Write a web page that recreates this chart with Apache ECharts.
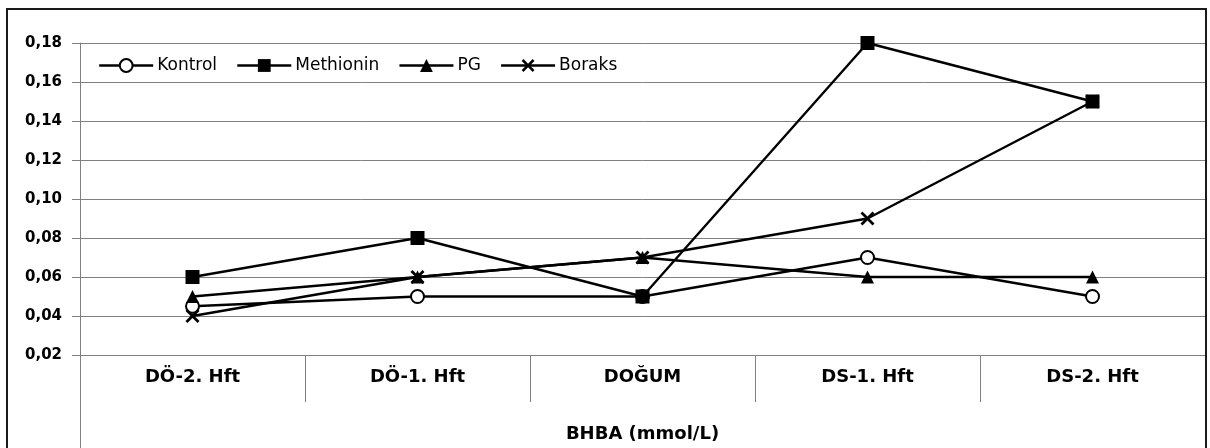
<!DOCTYPE html>
<html>
<head>
<meta charset="utf-8">
<script src="https://cdn.jsdelivr.net/npm/echarts@6/dist/echarts.min.js"></script>
<style>
  html, body { margin: 0; padding: 0; background: #fff; }
  #chart { width: 1210px; height: 448px; }
</style>
</head>
<body>
<div id="chart"></div>
<script>
// Sampling weeks around calving
const categories = ['DÖ-2. Hft', 'DÖ-1. Hft', 'DOĞUM', 'DS-1. Hft', 'DS-2. Hft'];
const axisTitle = 'BHBA (mmol/L)';

// BHBA concentration per group (mmol/L)
const kontrol   = [0.045, 0.05, 0.05, 0.07, 0.05];
const methionin = [0.06, 0.08, 0.05, 0.18, 0.15];
const pg        = [0.05, 0.06, 0.07, 0.06, 0.06];
const boraks    = [0.04, 0.06, 0.07, 0.09, 0.15];

const yMin = 0.02, yMax = 0.18, yStep = 0.02;

const FONT = 'DejaVu Sans';
const GRID = '#808080';
const crossPath = 'path://M0,1.4L1.4,0L5,3.6L8.6,0L10,1.4L6.4,5L10,8.6L8.6,10L5,6.4L1.4,10L0,8.6L3.6,5Z';

function lineSeries(name, data, symbol, size, filled) {
  return {
    name: name,
    type: 'line',
    data: data,
    symbol: symbol,
    symbolSize: size,
    showAllSymbol: true,
    lineStyle: { color: '#000', width: 2.4 },
    itemStyle: filled
      ? { color: '#000' }
      : { color: '#fff', borderColor: '#000', borderWidth: 2 },
    emphasis: { disabled: true },
    animation: false
  };
}

const chart = echarts.init(document.getElementById('chart'), null, { renderer: 'canvas' });
chart.setOption({
  backgroundColor: '#fff',
  animation: false,
  grid: { left: 80, right: 5, top: 43, bottom: 93, containLabel: false },
  legend: {
    left: 93,
    top: 52,
    itemWidth: 54,
    itemHeight: 16,
    itemGap: 19,
    lineStyle: { width: 2.4 },
    textStyle: { fontFamily: FONT, fontSize: 17, color: '#000', padding: [0, 0, 0, -1] },
    data: ['Kontrol', 'Methionin', 'PG', 'Boraks']
  },
  xAxis: {
    type: 'category',
    data: categories,
    boundaryGap: true,
    axisLine: { show: true, lineStyle: { color: GRID, width: 1 } },
    axisTick: { show: true, interval: 0, length: 47, lineStyle: { color: GRID, width: 1 } },
    axisLabel: { interval: 0, margin: 13, fontFamily: FONT, fontSize: 18, fontWeight: 'bold', color: '#000' },
    name: axisTitle,
    nameLocation: 'middle',
    nameGap: 70,
    nameTextStyle: { fontFamily: FONT, fontSize: 18, fontWeight: 'bold', color: '#000' }
  },
  yAxis: {
    type: 'value',
    min: yMin,
    max: yMax,
    interval: yStep,
    axisLine: { show: true, lineStyle: { color: GRID, width: 1 } },
    axisTick: { show: true, length: 8, lineStyle: { color: GRID, width: 1 } },
    splitLine: { show: true, lineStyle: { color: GRID, width: 1 } },
    axisLabel: {
      margin: 18,
      fontFamily: FONT, fontSize: 15, fontWeight: 'bold', color: '#000',
      formatter: v => v.toFixed(2).replace('.', ',')
    }
  },
  graphic: [
    // outer frame of the chart area
    { type: 'rect', shape: { x: 7, y: 9, width: 1199, height: 460 },
      style: { fill: 'none', stroke: '#1a1a1a', lineWidth: 2 }, silent: true, z: 10 },
    // value axis line continued through the category label band
    { type: 'line', shape: { x1: 80.5, y1: 355, x2: 80.5, y2: 448 },
      style: { stroke: GRID, lineWidth: 1 }, silent: true }
  ],
  series: [
    lineSeries('Kontrol', kontrol, 'circle', 13, false),
    lineSeries('Methionin', methionin, 'rect', 14, true),
    lineSeries('PG', pg, 'triangle', 13, true),
    lineSeries('Boraks', boraks, crossPath, 14, true)
  ]
});
</script>
</body>
</html>
